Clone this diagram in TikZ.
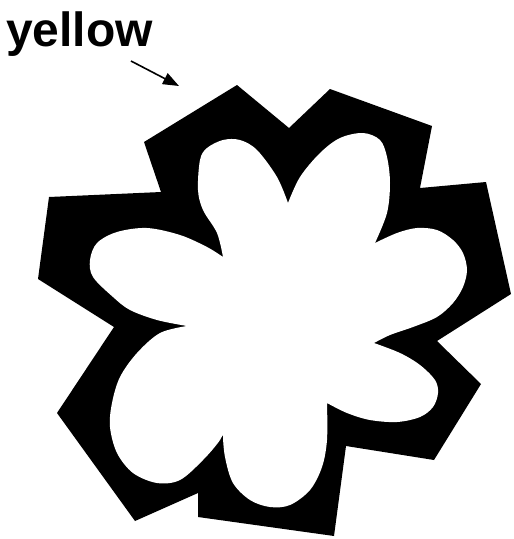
\documentclass[tikz,border=0pt]{standalone}
\usepackage{fontspec}
\setmainfont{Liberation Sans}
\usetikzlibrary{arrows.meta}
\begin{document}
\begin{tikzpicture}[x=1pt,y=-1pt,
  petal/.style={smooth,tension=0.55},
  lbl/.style={font=\bfseries\fontsize{48}{58}\selectfont,inner sep=0pt,anchor=base west},
  pointer/.style={line width=1.6pt,-{Triangle[length=16pt,width=12pt]}}]
\useasboundingbox (0,0) rectangle (514,539);
% outer black star polygon
\fill[black] (237,85) -- (289,128) -- (330,89) -- (432,126) -- (420,188) -- (486,182)
  -- (511,294) -- (437,341) -- (481,384) -- (434,460) -- (346,446) -- (334,536)
  -- (198,517) -- (198,493) -- (135,521) -- (57,413) -- (114,327) -- (38,279)
  -- (49,197) -- (161,192) -- (144,142) -- cycle;
% white flower
\fill[white]
  plot[petal] coordinates {(288,203) (300,177) (320,153) (340,138) (363,133) (380,140) (387,157) (390,183) (387,213) (375,243)}
  -- plot[petal] coordinates {(375,243) (397,233) (417,228) (437,230) (453,240) (463,253) (467,270) (463,287) (453,303) (437,317) (413,327) (390,335) (374,343)}
  -- plot[petal] coordinates {(374,343) (400,353) (420,365) (435,380) (438,393) (433,407) (420,417) (397,422) (370,420) (347,413) (327,403)}
  -- plot[petal] coordinates {(327,403) (327,440) (322,467) (310,490) (290,505) (270,507) (250,500) (233,483) (225,457) (223,433) (226,426)}
  -- plot[petal] coordinates {(226,426) (220,440) (203,460) (180,480) (157,483) (133,473) (117,453) (110,427) (112,403) (120,377) (137,353) (160,333) (187,326)}
  -- plot[petal] coordinates {(187,326) (157,320) (130,310) (113,297) (93,277) (90,260) (97,243) (117,232) (147,228) (180,235) (207,247) (223,257)}
  -- plot[petal] coordinates {(223,257) (217,233) (203,210) (198,190) (200,160) (207,148) (223,140) (240,140) (257,150) (277,177) (288,203)}
  -- cycle;
% label and arrow
\node[lbl] (label) at (6,46) {yellow};
\coordinate (arrstart) at (131,61);
\coordinate (arrtip) at (179,86);
\draw[pointer] (arrstart) -- (arrtip);
\end{tikzpicture}
\end{document}
